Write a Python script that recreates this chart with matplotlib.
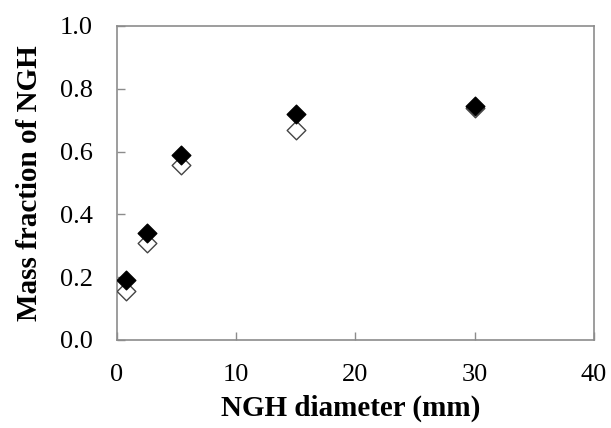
import numpy as np
import matplotlib
matplotlib.use("Agg")
import matplotlib.pyplot as plt

plt.rcParams['font.family'] = ['Liberation Serif', 'DejaVu Serif']

# datos
diameter = [0.8, 2.5, 5.4, 15.0, 30.0]
frac_filled = [0.191, 0.342, 0.589, 0.720, 0.745]
frac_open = [0.157, 0.310, 0.557, 0.669, 0.739]

fig = plt.figure(figsize=(6.11, 4.28), dpi=100)
ax = fig.add_axes([116.7 / 611, 1 - 340 / 428, (594 - 116.7) / 611, (340 - 26) / 428])

ax.scatter(diameter, frac_open, marker='D', s=90, facecolor='white',
           edgecolor='#444444', linewidth=1.0, zorder=3)
ax.scatter(diameter, frac_filled, marker='D', s=90, facecolor='black',
           edgecolor='black', linewidth=1.0, zorder=4)

ax.set_xlim(0, 40)
ax.set_ylim(0, 1.0)
ax.set_xticks([0, 10, 20, 30, 40])
ax.set_yticks(np.arange(0, 1.01, 0.2))
ax.set_yticklabels([f"{v:.1f}" for v in np.arange(0, 1.01, 0.2)])
ax.tick_params(direction='in', length=6, width=1, color='#8c8c8c',
               labelsize=19, colors='#8c8c8c', labelcolor='black')
ax.tick_params(axis='x', pad=17)
ax.tick_params(axis='y', pad=17)

for s in ax.spines.values():
    s.set_color('#8c8c8c')
    s.set_linewidth(1.2)

ax.set_xlabel('NGH diameter (mm)', fontsize=21, fontweight='bold', va='center')
ax.set_ylabel('Mass fraction of NGH', fontsize=21, fontweight='bold', va='center')
ax.xaxis.set_label_coords(0.49, -0.217)
ax.yaxis.set_label_coords(-0.182, 0.5)

fig.savefig('out.png', dpi=100)
